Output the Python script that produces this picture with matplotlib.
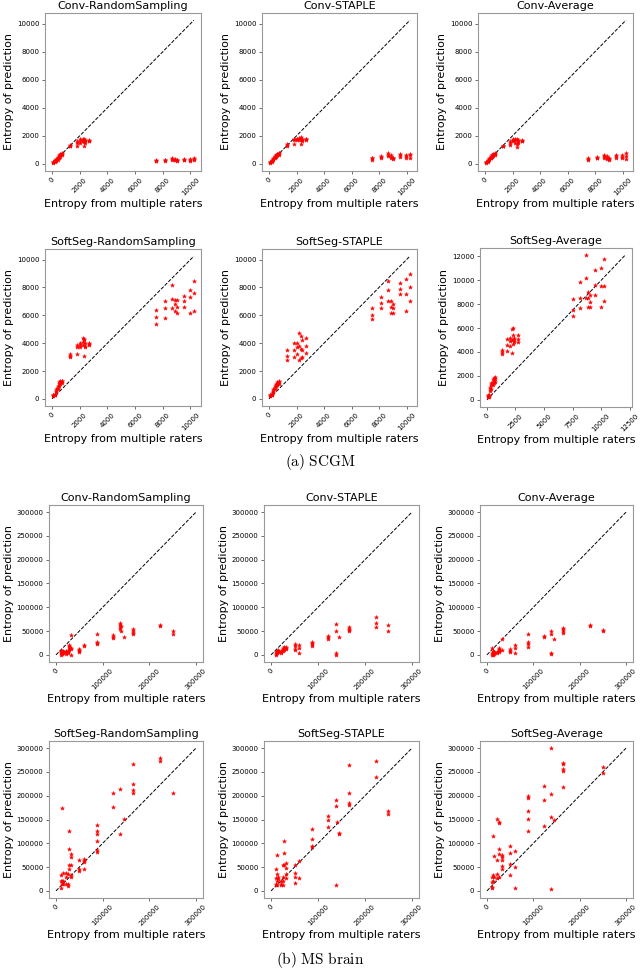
import matplotlib
matplotlib.use("Agg")
import matplotlib.pyplot as plt
from matplotlib.ticker import MultipleLocator

plt.rcParams["mathtext.fontset"] = "cm"

X_LABEL = "Entropy from multiple raters"
Y_LABEL = "Entropy of prediction"
TITLES = ["Conv-RandomSampling", "Conv-STAPLE", "Conv-Average",
          "SoftSeg-RandomSampling", "SoftSeg-STAPLE", "SoftSeg-Average"]

# SCGM: entropy from raters (one column per x value), predictions per panel
SCGM_X = [100, 200, 300, 400, 500, 600, 700, 1300, 1800, 2000, 2200, 2300, 2400, 2700,
          7500, 8150, 8650, 8850, 9050, 9500, 9950, 10250]

SCGM_CONV_RS = [[80, 120, 150], [150, 200, 250], [200, 300, 350], [300, 400, 500],
                [400, 550, 650], [500, 600, 700], [600, 700, 800], [1250, 1300, 1350],
                [1300, 1500, 1650], [1500, 1650, 1750], [1600, 1700, 1800], [1300, 1550, 1800],
                [1500, 1600, 1700], [1600, 1650, 1700], [180, 220, 250], [200, 250, 300],
                [300, 350, 400], [250, 300, 350], [200, 250, 300], [250, 300, 350],
                [200, 280, 350], [250, 320, 400]]
SCGM_CONV_STAPLE = [[80, 120, 150], [150, 200, 250], [300, 350, 400], [400, 500, 550],
                    [500, 600, 650], [600, 650, 700], [650, 750, 800], [1300, 1350, 1400],
                    [1400, 1700, 1750], [1700, 1750, 1800], [1700, 1800, 1850], [1400, 1750, 1900],
                    [1600, 1700, 1800], [1700, 1750, 1800], [300, 400, 450], [400, 480, 550],
                    [550, 650, 750], [400, 500, 600], [350, 400, 450], [500, 600, 700],
                    [400, 550, 650], [450, 600, 700]]
SCGM_CONV_AVG = [[80, 120, 150], [150, 200, 250], [250, 350, 400], [400, 450, 550],
                 [500, 600, 650], [550, 650, 700], [650, 700, 800], [1250, 1300, 1300],
                 [1350, 1450, 1600], [1600, 1700, 1750], [1500, 1700, 1800], [1200, 1400, 1750],
                 [1500, 1600, 1700], [1600, 1650, 1700], [250, 350, 400], [400, 450, 500],
                 [450, 550, 650], [350, 450, 550], [300, 350, 450], [450, 550, 650],
                 [400, 500, 600], [350, 550, 750]]
SCGM_SOFT_RS = [[200, 250, 300], [250, 300, 350], [500, 600, 700], [700, 800, 900],
                [900, 1100, 1200], [1100, 1200, 1250], [1150, 1250, 1300], [3000, 3100, 3200],
                [3200, 3700, 3900], [3700, 3900, 4000], [3900, 4100, 4400], [3100, 4200, 4300],
                [3700, 3800, 4000], [3900, 3950, 4000], [5400, 5900, 6400], [5800, 6500, 7000],
                [6500, 7200, 8200], [6300, 6800, 7100], [6200, 6600, 7100], [6600, 7000, 7400],
                [6200, 7300, 7800], [6300, 7600, 8500]]
SCGM_SOFT_STAPLE = [[200, 250, 300], [250, 300, 400], [500, 600, 700], [700, 800, 900],
                    [900, 1000, 1100], [1000, 1100, 1200], [1100, 1200, 1300], [2800, 3100, 3500],
                    [3000, 3500, 4000], [3200, 3700, 4000], [2800, 3800, 4700], [2900, 3600, 4500],
                    [3000, 3500, 4200], [3300, 3800, 4400], [5700, 6000, 6500], [6500, 6900, 7300],
                    [7000, 7800, 8500], [6200, 6600, 7000], [6200, 6500, 6800], [7500, 7900, 8300],
                    [6300, 7500, 8600], [7000, 8000, 9000]]
SCGM_SOFT_AVG = [[200, 300, 400], [250, 350, 400], [700, 900, 1100], [900, 1200, 1400],
                 [1200, 1500, 1700], [1400, 1600, 1800], [1500, 1700, 1900], [3800, 4000, 4200],
                 [4100, 4600, 5100], [4500, 4900, 5200], [3900, 5000, 5900], [4700, 5400, 6000],
                 [4800, 5000, 5200], [4800, 5100, 5400], [7000, 7500, 8400], [7700, 8500, 9900],
                 [8500, 10200, 12100], [7800, 8500, 9000], [7800, 8200, 8800], [8800, 9600, 10900],
                 [7800, 9500, 11000], [8300, 9500, 11800]]
SCGM_LINE_END = [10250, 10250, 10250, 10250, 10250, 12100]

# MS brain
MS_X = [10000, 12000, 15000, 22000, 25000, 27000, 32000, 50000, 60000, 88000,
        122000, 138000, 140000, 145000, 165000, 223000, 250000]

MS_CONV_RS = [[0, 3000, 6000, 8000], [2000, 5000, 8000], [3000, 6000, 9000], [2000, 5000, 8000],
              [3000, 6000, 9000], [10000, 14000, 18000, 20000], [0, 12000, 14000, 42000],
              [5000, 8000, 10000, 12000], [18000, 20000], [22000, 25000, 27000, 44000],
              [36000, 38000, 42000], [55000, 58000, 63000, 68000], [50000, 60000], [37000],
              [43000, 46000, 50000, 55000], [60000, 62000], [44000, 50000]]
MS_CONV_STAPLE = [[0, 2000, 5000], [3000, 6000, 8000], [5000, 8000, 10000], [4000, 7000, 9000],
                  [8000, 12000, 14000], [10000, 13000, 16000], [12000, 15000, 16000],
                  [10000, 13000, 18000, 22000], [3000, 14000, 20000], [19000, 22000, 25000, 28000],
                  [34000, 37000, 40000], [0, 3000, 51000, 65000], [], [38000],
                  [50000, 52000, 55000, 58000], [58000, 67000, 79000], [51000, 63000]]
MS_CONV_AVG = [[0, 3000, 14000], [0, 4000, 8000], [2000, 5000, 7000], [3000, 6000],
               [5000, 10000, 15000], [8000, 12000], [10000, 33000], [6000, 8000, 12000],
               [3000, 15000, 20000], [16000, 22000, 28000, 43000], [38000, 40000],
               [1000, 3000, 43000, 51000], [], [33000], [46000, 50000, 55000, 57000],
               [61000, 63000], [51000, 53000]]
MS_SOFT_RS = [[5000, 20000, 34000], [15000, 20000, 174000], [15000, 20000, 37000],
              [15000, 30000, 38000], [10000, 14000, 35000], [45000, 55000, 88000, 126000],
              [30000, 33000, 55000, 72000, 78000], [42000, 45000, 64000],
              [45000, 60000, 63000, 68000], [82000, 86000, 104000, 120000, 125000, 138000],
              [176000, 205000], [120000, 214000], [], [152000],
              [206000, 212000, 225000, 266000], [274000, 280000], [206000]]
MS_SOFT_STAPLE = [[12000, 15000, 28000, 45000], [12000, 20000, 35000, 75000], [25000, 30000],
                  [12000, 15000, 20000], [13000, 20000, 30000, 55000], [55000, 80000, 105000],
                  [28000, 35000, 48000, 58000], [16000, 30000, 37000, 55000], [28000, 62000],
                  [93000, 95000, 108000, 130000], [135000, 150000, 158000],
                  [12000, 178000, 190000], [145000], [120000, 122000],
                  [180000, 185000, 205000, 265000], [240000, 272000], [162000, 168000]]
MS_SOFT_AVG = [[5000, 8000, 18000, 30000], [20000, 33000, 115000], [30000, 73000],
               [28000, 35000, 65000, 152000], [30000, 78000, 88000, 143000, 145000], [],
               [45000, 52000, 65000, 72000, 75000], [34000, 57000, 80000, 95000],
               [6000, 50000, 84000], [125000, 152000, 168000, 195000, 199000],
               [137000, 191000, 220000], [4000, 155000, 203000, 300000], [], [148000],
               [218000, 252000, 257000, 266000, 269000], [], [247000, 260000]]
MS_LINE_END = [300000, 300000, 300000, 300000, 300000, 300000]


def flatten(cols, groups):
    xs, ys = [], []
    for x, vals in zip(cols, groups):
        for v in vals:
            xs.append(x)
            ys.append(v)
    return xs, ys


def plot_panel(ax, cols, groups, line_end, title, xstep, ystep):
    xs, ys = flatten(cols, groups)
    ax.plot([0, line_end], [0, line_end], "k--", lw=0.7)
    ax.scatter(xs, ys, marker="*", s=9, color="red", linewidths=0.3, zorder=3)
    ax.set_title(title, fontsize=8, pad=3)
    ax.set_xlabel(X_LABEL, fontsize=8, labelpad=2)
    ax.set_ylabel(Y_LABEL, fontsize=8, labelpad=2)
    ax.xaxis.set_major_locator(MultipleLocator(xstep))
    ax.yaxis.set_major_locator(MultipleLocator(ystep))
    ax.tick_params(labelsize=5, length=2.5, width=0.6, pad=1.5, color="#555555")
    plt.setp(ax.get_xticklabels(), rotation=45)
    for spine in ax.spines.values():
        spine.set_color("#999999")
        spine.set_linewidth(0.8)


fig = plt.figure(figsize=(6.4, 9.8), dpi=100)

W, H = 640.0, 980.0
# pixel boxes (left, top, right, bottom)
boxes = [
    [(45, 13, 201, 171), (262, 13, 417, 171), (478, 13, 633, 171)],
    [(45, 249, 201, 406), (262, 249, 417, 406), (480, 248, 632, 407)],
    [(49, 505, 203, 662), (264, 505, 419, 662), (480, 505, 633, 662)],
    [(49, 741, 203, 898), (264, 741, 419, 898), (480, 741, 633, 898)],
]


def add_axes(box):
    l, t, r, b = box
    return fig.add_axes([l / W, 1 - b / H, (r - l) / W, (b - t) / H])


scgm = [SCGM_CONV_RS, SCGM_CONV_STAPLE, SCGM_CONV_AVG,
        SCGM_SOFT_RS, SCGM_SOFT_STAPLE, SCGM_SOFT_AVG]
ms = [MS_CONV_RS, MS_CONV_STAPLE, MS_CONV_AVG,
      MS_SOFT_RS, MS_SOFT_STAPLE, MS_SOFT_AVG]

for i in range(6):
    ax = add_axes(boxes[i // 3][i % 3])
    xstep = 2500 if i == 5 else 2000
    plot_panel(ax, SCGM_X, scgm[i], SCGM_LINE_END[i], TITLES[i], xstep, 2000)

for i in range(6):
    ax = add_axes(boxes[2 + i // 3][i % 3])
    plot_panel(ax, MS_X, ms[i], MS_LINE_END[i], TITLES[i], 100000, 50000)

fig.text(0.5, 1 - 462 / H, r"$\mathrm{(a)\ SCGM}$", ha="center", va="center", fontsize=11)
fig.text(0.5, 1 - 960 / H, r"$\mathrm{(b)\ MS\ brain}$", ha="center", va="center", fontsize=11)

fig.savefig("out.png", dpi=100)
